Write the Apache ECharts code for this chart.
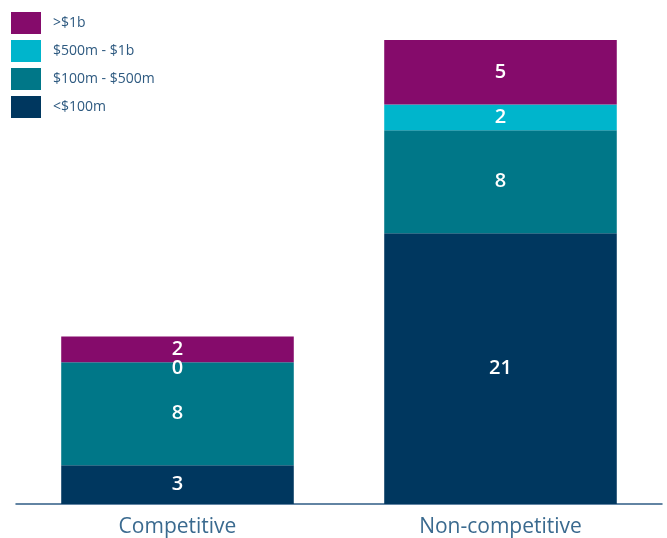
<!DOCTYPE html>
<html>
<head>
<meta charset="utf-8">
<script src="https://cdn.jsdelivr.net/npm/echarts@6/dist/echarts.min.js"></script>
<style>
  html, body { margin: 0; padding: 0; background: #ffffff; }
  #chart { width: 667px; height: 538px; }
</style>
</head>
<body>
<div id="chart"></div>
<script>
// Deal counts by category, stacked by deal size band
const categories = ['Competitive', 'Non-competitive'];
const under100m = [3, 21];
const from100to500m = [8, 8];
const from500mTo1b = [0, 2];
const over1b = [2, 5];

const seriesNames = ['<$100m', '$100m - $500m', '$500m - $1b', '>$1b'];
const seriesColors = ['#00375f', '#007788', '#00b5cc', '#850b6b'];
const seriesValues = [under100m, from100to500m, from500mTo1b, over1b];

const chart = echarts.init(document.getElementById('chart'));

const series = seriesNames.map((name, i) => ({
  name: name,
  type: 'bar',
  stack: 'deals',
  barWidth: '72%',
  // empty segments keep their label, nudged just below the seam
  data: seriesValues[i].map(v => v === 0 ? { value: v, label: { offset: [0, 6] } } : v),
  itemStyle: { color: seriesColors[i] },
  label: {
    show: true,
    position: 'inside',
    color: '#ffffff',
    fontFamily: 'Open Sans',
    fontWeight: 600,
    fontSize: 20
  },
  emphasis: { disabled: true }
}));

chart.setOption({
  animation: false,
  legend: {
    data: seriesNames.slice().reverse(),
    orient: 'vertical',
    left: 11,
    top: 12,
    padding: 0,
    itemWidth: 30,
    itemHeight: 22,
    itemGap: 6,
    icon: 'rect',
    textStyle: {
      color: '#2e5a80',
      fontFamily: 'Open Sans',
      fontSize: 14,
      padding: [0, 0, 0, 7]
    },
    selectedMode: false
  },
  grid: { left: 16, right: 5, top: 40, bottom: 34 },
  xAxis: {
    type: 'category',
    data: categories,
    axisLine: { show: true, lineStyle: { color: '#2f5c85', width: 1.5 } },
    axisTick: { show: false },
    axisLabel: {
      color: '#3a6a8f',
      fontFamily: 'Open Sans',
      fontSize: 21,
      margin: 13
    }
  },
  yAxis: {
    type: 'value',
    min: 0,
    max: 36,
    show: false,
    splitLine: { show: false }
  },
  series: series
});
</script>
</body>
</html>
